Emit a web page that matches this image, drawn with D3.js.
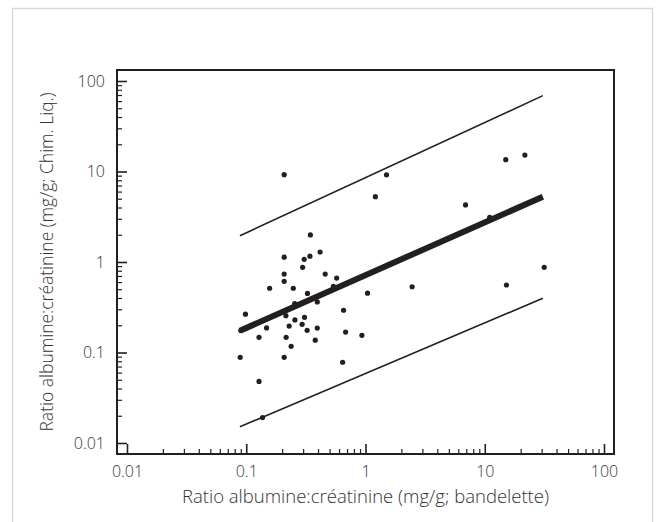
<!DOCTYPE html>
<html>
<head>
<meta charset="utf-8">
<script src="https://cdn.jsdelivr.net/npm/d3@7"></script>
<style>
  html, body { margin: 0; padding: 0; background: #fff; }
</style>
</head>
<body>
<div id="chart"></div>
<script>
// ── DATA ─────────────────────────────────────────────────────────────────
const pointsX = [0.208, 1.21, 1.50, 15.0, 21.7, 6.9, 11.0, 0.345, 0.208, 0.306,
  0.342, 0.416, 0.297, 0.208, 0.459, 0.573, 0.208, 0.157, 0.248, 0.326,
  0.538, 0.0985, 0.255, 0.394, 1.04, 2.46, 15.2, 31.5, 0.655, 0.215,
  0.256, 0.308, 0.148, 0.229, 0.294, 0.324, 0.394, 0.128, 0.216, 0.681,
  0.933, 0.379, 0.238, 0.089, 0.208, 0.643, 0.128, 0.137, 0.09];
const pointsY = [9.22, 5.27, 9.2, 13.5, 15.2, 4.27, 3.12, 1.99, 1.13, 1.07,
  1.16, 1.29, 0.873, 0.736, 0.736, 0.665, 0.612, 0.513, 0.513, 0.449,
  0.538, 0.265, 0.347, 0.362, 0.452, 0.533, 0.557, 0.873, 0.293, 0.255,
  0.229, 0.245, 0.187, 0.196, 0.205, 0.176, 0.186, 0.147, 0.147, 0.168,
  0.155, 0.137, 0.117, 0.0885, 0.0885, 0.078, 0.0479, 0.0191, 0.175];

// fitted line and its limits: [x start, x end] / [y start, y end]
const lineX = [0.0885, 30.7];
const fitY = [0.174, 5.27];
const upperY = [1.95, 68.9];
const lowerY = [0.0151, 0.397];

const tickValues = [0.01, 0.1, 1, 10, 100];
const tickLabels = ["0.01", "0.1", "1", "10", "100"];

const xTitle = "Ratio albumine:créatinine (mg/g; bandelette)";
const yTitle = "Ratio albumine:créatinine (mg/g; Chim. Liq.)";

// ── LAYOUT ───────────────────────────────────────────────────────────────
const width = 656, height = 522;
const ink = "#231f20";
const textInk = "#333";
const font = "'Open Sans', Lato, sans-serif";

const svg = d3.select("#chart").append("svg")
  .attr("width", width)
  .attr("height", height)
  .style("display", "block");

// light outer panel
svg.append("path")
  .attr("d", "M12.5,530 V8.5 H652.5 V530")
  .attr("fill", "none")
  .attr("stroke", "#d9d9d9")
  .attr("stroke-width", 1.5);

const frame = { left: 117, top: 70, right: 614, bottom: 454 };

const x = d3.scaleLog()
  .domain([0.01 / Math.pow(10, 10 / 119.3), 100 * Math.pow(10, 10 / 119.3)])
  .range([frame.left, frame.right]);

const y = d3.scaleLog()
  .domain([0.01 / Math.pow(10, 11 / 90.5), 100 * Math.pow(10, 11 / 90.5)])
  .range([frame.bottom, frame.top]);

// minor tick values: 2..9 per decade up to 100
const minor = [];
[0.01, 0.1, 1, 10].forEach(d => {
  for (let k = 2; k <= 9; k++) minor.push(d * k);
});

// ── FRAME ────────────────────────────────────────────────────────────────
svg.append("rect")
  .attr("x", frame.left)
  .attr("y", frame.top)
  .attr("width", frame.right - frame.left)
  .attr("height", frame.bottom - frame.top)
  .attr("fill", "none")
  .attr("stroke", ink)
  .attr("stroke-width", 2);

// ── AXES (ticks point inward) ────────────────────────────────────────────
svg.append("g")
  .attr("transform", `translate(0,${frame.bottom})`)
  .call(d3.axisTop(x).tickValues(tickValues).tickSize(10).tickFormat(""))
  .call(ax => ax.select(".domain").remove())
  .call(ax => ax.selectAll(".tick line").attr("stroke", ink).attr("stroke-width", 1.6));

svg.append("g")
  .attr("transform", `translate(0,${frame.bottom})`)
  .call(d3.axisTop(x).tickValues(minor).tickSize(5).tickFormat(""))
  .call(ax => ax.select(".domain").remove())
  .call(ax => ax.selectAll(".tick line").attr("stroke", ink).attr("stroke-width", 1.2));

svg.append("g")
  .attr("transform", `translate(0,${frame.bottom})`)
  .call(d3.axisBottom(x).tickValues(tickValues).tickSize(0).tickPadding(12)
    .tickFormat((d, i) => tickLabels[i]))
  .call(ax => ax.select(".domain").remove())
  .call(ax => ax.selectAll(".tick text")
    .attr("fill", textInk)
    .attr("font-family", font)
    .attr("font-weight", 300)
    .attr("font-size", "16px"));

svg.append("g")
  .attr("transform", `translate(${frame.left},0)`)
  .call(d3.axisRight(y).tickValues(tickValues).tickSize(10).tickFormat(""))
  .call(ax => ax.select(".domain").remove())
  .call(ax => ax.selectAll(".tick line").attr("stroke", ink).attr("stroke-width", 1.6));

svg.append("g")
  .attr("transform", `translate(${frame.left},0)`)
  .call(d3.axisRight(y).tickValues(minor).tickSize(5).tickFormat(""))
  .call(ax => ax.select(".domain").remove())
  .call(ax => ax.selectAll(".tick line").attr("stroke", ink).attr("stroke-width", 1.2));

svg.append("g")
  .attr("transform", `translate(${frame.left},0)`)
  .call(d3.axisLeft(y).tickValues(tickValues).tickSize(0).tickPadding(12)
    .tickFormat((d, i) => tickLabels[i]))
  .call(ax => ax.select(".domain").remove())
  .call(ax => ax.selectAll(".tick text")
    .attr("fill", textInk)
    .attr("font-family", font)
    .attr("font-weight", 300)
    .attr("font-size", "16px"));

// axis titles
svg.append("text")
  .attr("x", (frame.left + frame.right) / 2)
  .attr("y", 503)
  .attr("text-anchor", "middle")
  .attr("fill", textInk)
  .attr("font-family", font)
  .attr("font-weight", 300)
  .attr("font-size", "18.5px")
  .text(xTitle);

svg.append("text")
  .attr("transform", `translate(53,${(frame.top + frame.bottom) / 2}) rotate(-90)`)
  .attr("text-anchor", "middle")
  .attr("fill", textInk)
  .attr("font-family", font)
  .attr("font-weight", 300)
  .attr("font-size", "17.5px")
  .text(yTitle);

// ── LINES ────────────────────────────────────────────────────────────────
const line = d3.line().x(d => x(d[0])).y(d => y(d[1]));

[upperY, lowerY].forEach(ys => {
  svg.append("path")
    .datum(lineX.map((v, i) => [v, ys[i]]))
    .attr("fill", "none")
    .attr("stroke", ink)
    .attr("stroke-width", 1.6)
    .attr("d", line);
});

// ── POINTS ───────────────────────────────────────────────────────────────
svg.append("g")
  .selectAll("circle")
  .data(pointsX.map((v, i) => [v, pointsY[i]]))
  .join("circle")
  .attr("cx", d => x(d[0]))
  .attr("cy", d => y(d[1]))
  .attr("r", 2.6)
  .attr("fill", ink);

// thick regression line on top
svg.append("path")
  .datum(lineX.map((v, i) => [v, fitY[i]]))
  .attr("fill", "none")
  .attr("stroke", ink)
  .attr("stroke-width", 6)
  .attr("d", line);
</script>
</body>
</html>
